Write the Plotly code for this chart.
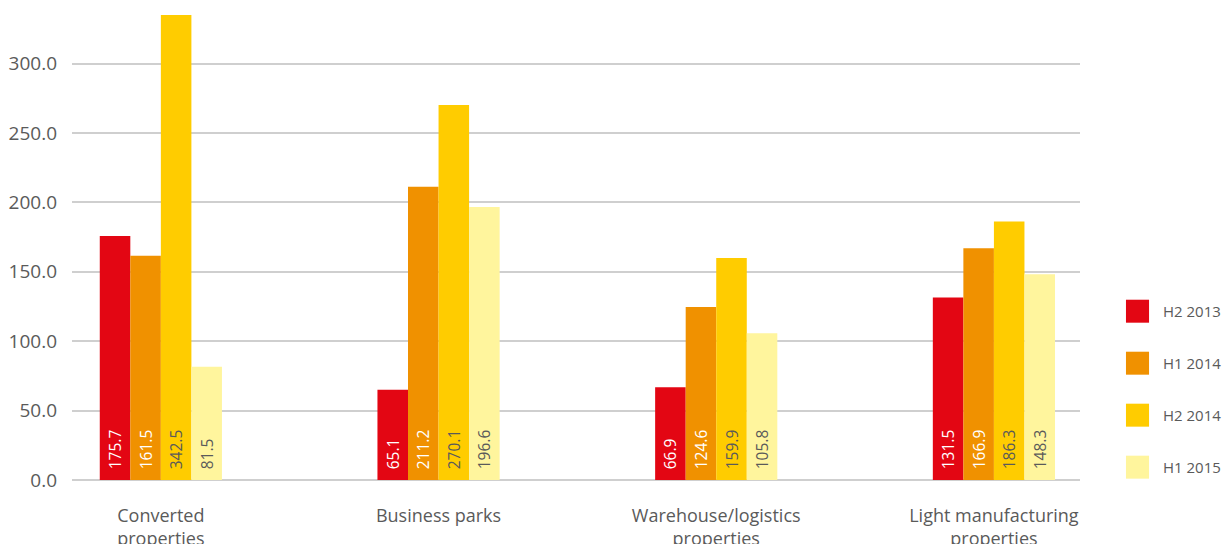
import plotly.graph_objects as go

# Property segments and half-year series
categories = [
    "Converted<br>properties",
    "Business parks",
    "Warehouse/logistics<br>properties",
    "Light manufacturing<br>properties",
]
series_names = ["H2 2013", "H1 2014", "H2 2014", "H1 2015"]
h2_2013 = [175.7, 65.1, 66.9, 131.5]
h1_2014 = [161.5, 211.2, 124.6, 166.9]
h2_2014 = [342.5, 270.1, 159.9, 186.3]
h1_2015 = [81.5, 196.6, 105.8, 148.3]
y_ticks = [0, 50, 100, 150, 200, 250, 300]

series_values = [h2_2013, h1_2014, h2_2014, h1_2015]
bar_colors = ["#E30613", "#F09100", "#FFCC00", "#FFF59D"]
label_colors = ["#FFFFFF", "#FFFFFF", "#5A5A5A", "#5A5A5A"]
FONT = "Open Sans"
GREY = "#5A5A5A"

fig = go.Figure()
for name, vals, col, tcol in zip(series_names, series_values, bar_colors, label_colors):
    fig.add_trace(go.Bar(
        name=name,
        x=categories,
        y=vals,
        marker=dict(color=col, line=dict(width=0)),
        texttemplate="\u2002%{y:.1f}",
        textposition="inside",
        insidetextanchor="start",
        textangle=-90,
        constraintext="none",
        textfont=dict(family=FONT, size=15.5, color=tcol),
        showlegend=False,
        hoverinfo="skip",
    ))

# Legend drawn at the right: coloured squares with series names
leg_x0, leg_x1, leg_tx = 1.0456, 1.0685, 1.0805
leg_top, leg_step, sq = 0.363, 0.1118, 0.0247
for i, (name, col) in enumerate(zip(series_names, bar_colors)):
    yc = leg_top - i * leg_step
    fig.add_shape(type="rect", xref="paper", yref="paper",
                  x0=leg_x0, x1=leg_x1, y0=yc - sq, y1=yc + sq,
                  fillcolor=col, line=dict(width=0), layer="above")
    fig.add_annotation(x=leg_tx, y=yc, xref="paper", yref="paper",
                       text=name, showarrow=False, xanchor="left", yanchor="middle",
                       font=dict(family=FONT, size=15, color=GREY))

fig.update_layout(
    width=1224, height=544,
    margin=dict(l=72, r=144, t=15, b=64, pad=0),
    paper_bgcolor="white", plot_bgcolor="white",
    barmode="group", bargap=0.56, bargroupgap=0,
    font=dict(family=FONT, color=GREY),
    xaxis=dict(
        type="category", range=[-0.32, 3.31], automargin=False,
        showgrid=False, showline=False, ticks="", zeroline=False,
        tickfont=dict(family=FONT, size=18, color=GREY),
        ticklabelstandoff=23,
    ),
    yaxis=dict(
        range=[0, 335], tickvals=y_ticks, tickformat=".1f", automargin=False,
        showgrid=True, gridcolor="#CFCFCF", gridwidth=1.5,
        zeroline=True, zerolinecolor="#CFCFCF", zerolinewidth=1.5,
        showline=False, ticks="",
        tickfont=dict(family=FONT, size=19, color=GREY),
        ticklabelstandoff=14,
    ),
)

fig.write_html("out.html")
